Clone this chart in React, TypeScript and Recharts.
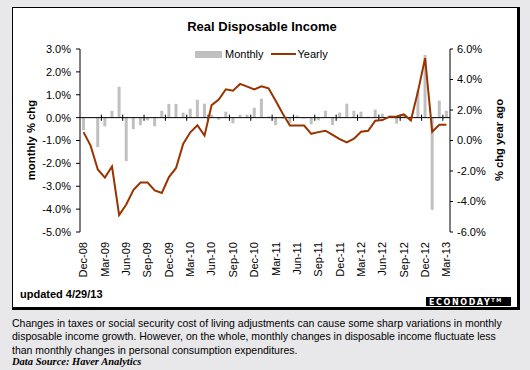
import React from 'react'
import { ComposedChart, Bar, Line, XAxis, YAxis, ReferenceLine, Legend } from 'recharts'

const MONTHS = [
  'Dec-08',
  'Jan-09', 'Feb-09', 'Mar-09', 'Apr-09', 'May-09', 'Jun-09', 'Jul-09', 'Aug-09', 'Sep-09', 'Oct-09', 'Nov-09', 'Dec-09',
  'Jan-10', 'Feb-10', 'Mar-10', 'Apr-10', 'May-10', 'Jun-10', 'Jul-10', 'Aug-10', 'Sep-10', 'Oct-10', 'Nov-10', 'Dec-10',
  'Jan-11', 'Feb-11', 'Mar-11', 'Apr-11', 'May-11', 'Jun-11', 'Jul-11', 'Aug-11', 'Sep-11', 'Oct-11', 'Nov-11', 'Dec-11',
  'Jan-12', 'Feb-12', 'Mar-12', 'Apr-12', 'May-12', 'Jun-12', 'Jul-12', 'Aug-12', 'Sep-12', 'Oct-12', 'Nov-12', 'Dec-12',
  'Jan-13', 'Feb-13', 'Mar-13',
]

// monthly % change (left axis)
const MONTHLY = [
  -0.55, 0.03, -1.29, -0.38, 0.3, 1.35, -1.9, -0.5, -0.33, -0.12, -0.38, 0.3, 0.6,
  0.6, 0.22, 0.39, 0.78, 0.61, 0.13, -0.09, 0.26, -0.25, 0.13, 0.13, 0.43, 0.83,
  0.05, -0.33, -0.05, -0.23, 0.09, -0.04, -0.29, -0.12, 0.3, -0.33, 0.22, 0.61, 0.3,
  0.26, 0.04, 0.35, 0.17, 0.09, -0.26, 0.13, 0.05, 1.17, 2.74, -4.03, 0.74, 0.3,
]

// % change year ago (right axis)
const YEARLY = [
  0.55, -0.35, -1.9, -2.43, -1.71, -4.89, -4.2, -3.25, -2.76, -2.76, -3.27, -3.44, -2.4,
  -1.8, -0.22, 0.54, 1.0, 0.32, 2.32, 2.68, 3.36, 3.27, 3.71, 3.53, 3.35, 3.55,
  3.42, 2.61, 1.76, 0.98, 0.98, 0.98, 0.44, 0.55, 0.64, 0.37, 0.09, -0.13, 0.12,
  0.57, 0.64, 1.3, 1.34, 1.56, 1.58, 1.71, 1.32, 3.22, 5.4, 0.57, 1.03, 1.03,
]

const LEFT_TICKS = [-5, -4, -3, -2, -1, 0, 1, 2, 3]
const RIGHT_TICKS = [-6, -4, -2, 0, 2, 4, 6]

const data = MONTHS.map((month, i) => ({ month, monthly: MONTHLY[i], yearly: YEARLY[i] }))
const tickMonths = MONTHS.filter((_, i) => i > 0 && i % 3 === 0)

const FONT = '"Liberation Sans", Arial, sans-serif'
const BROWN = '#993300'
const GREY = '#c0c0c0'

const pct = (v: number) => `${v.toFixed(1)}%`

function MonthTick({ x, y, payload }: any) {
  return (
    <g transform={`translate(${x},${y + 8}) rotate(-90)`}>
      <text textAnchor="end" dy="0.35em" fontSize={11} fill="#000">
        {payload.value}
      </text>
    </g>
  )
}

function LegendBox() {
  return (
    <div style={{ display: 'flex', alignItems: 'center', fontSize: 11, color: '#000', whiteSpace: 'nowrap' }}>
      <span style={{ width: 27, height: 7, background: GREY, marginRight: 3 }} />
      <span>Monthly</span>
      <span style={{ width: 25, height: 2, background: BROWN, marginLeft: 7, marginRight: 2 }} />
      <span>Yearly</span>
    </div>
  )
}

export default function App() {
  return (
    <div style={{ position: 'absolute', left: 0, top: 0, width: 530, height: 370, background: '#e8e8ea', fontFamily: FONT, overflow: 'hidden' }}>
      <div
        style={{
          position: 'absolute', left: 12, top: 7, width: 504, height: 299, background: '#fff',
          borderTop: '1px solid #000', borderLeft: '1px solid #000', borderRight: '3px solid #000', borderBottom: '3px solid #000',
        }}
      />
      <div style={{ position: 'absolute', left: 0, top: 0 }}>
        <ComposedChart width={530} height={300} data={data} margin={{ top: 49, right: 0, left: 0, bottom: 18 }}>
          <XAxis
            dataKey="month"
            interval={2}
            tickLine={false}
            axisLine={false}
            tickSize={0}
            height={50}
            tick={<MonthTick />}
          />
          <YAxis
            yAxisId="left"
            domain={[-5, 3]}
            ticks={LEFT_TICKS}
            width={80}
            tickFormatter={pct}
            axisLine={{ stroke: '#000' }}
            tickLine={{ stroke: '#000' }}
            tickSize={4}
            tickMargin={5}
            tick={{ fontSize: 11, fill: '#000' }}
          />
          <YAxis
            yAxisId="right"
            orientation="right"
            domain={[-6, 6]}
            ticks={RIGHT_TICKS}
            width={80}
            tickFormatter={pct}
            axisLine={{ stroke: '#000' }}
            tickLine={{ stroke: '#000' }}
            tickSize={3}
            tickMargin={4}
            tick={{ fontSize: 11, fill: '#000' }}
          />
          <Bar yAxisId="left" dataKey="monthly" fill={GREY} barSize={3} isAnimationActive={false} />
          <ReferenceLine yAxisId="left" y={0} stroke="#000" strokeWidth={1} />
          {tickMonths.map((m) => (
            <ReferenceLine
              key={m}
              yAxisId="left"
              position="start"
              segment={[{ x: m, y: 0.13 }, { x: m, y: -0.14 }]}
              stroke="#000"
              strokeWidth={1}
            />
          ))}
          <Line
            yAxisId="right"
            dataKey="yearly"
            type="linear"
            stroke={BROWN}
            strokeWidth={2}
            dot={false}
            isAnimationActive={false}
          />
          <Legend
            layout="horizontal"
            align="center"
            verticalAlign="middle"
            content={<LegendBox />}
            wrapperStyle={{ top: 48, left: 195, width: 'auto' }}
          />
        </ComposedChart>
      </div>
      <svg width={530} height={310} style={{ position: 'absolute', left: 0, top: 0, pointerEvents: 'none' }}>
        <text x={262} y={31} textAnchor="middle" fontSize={13} fontWeight="bold" fill="#000">
          Real Disposable Income
        </text>
        <text transform="translate(31,140) rotate(-90)" textAnchor="middle" dy="0.35em" fontSize={11.3} fontWeight="bold" fill="#000">
          monthly % chg
        </text>
        <text transform="translate(499.5,140) rotate(-90)" textAnchor="middle" dy="0.35em" fontSize={11.2} fontWeight="bold" fill="#000">
          % chg year ago
        </text>
        <text x={20} y={298} fontSize={11} fontWeight="bold" fill="#000">
          updated 4/29/13
        </text>
        <rect x={426} y={297} width={85} height={9} fill="#000" />
        <text x={429} y={305} fontSize={8} fontWeight="bold" fill="#fff" letterSpacing={1.6} fontFamily='"DejaVu Sans", sans-serif'>
          ECONODAY<tspan fontSize={5} dy={-3}>TM</tspan>
        </text>
      </svg>
      <div style={{ position: 'absolute', left: 12, top: 316.5, fontSize: 10.5, lineHeight: '13.7px', color: '#000', whiteSpace: 'nowrap' }}>
        Changes in taxes or social security cost of living adjustments can cause some sharp variations in monthly
        <br />
        disposable income growth. However, on the whole, monthly changes in disposable income fluctuate less
        <br />
        than monthly changes in personal consumption expenditures.
      </div>
      <div
        style={{
          position: 'absolute', left: 12, top: 355, fontSize: 10.5, lineHeight: '13px', color: '#000',
          fontFamily: '"Liberation Serif", "Times New Roman", serif', fontStyle: 'italic', fontWeight: 'bold', whiteSpace: 'nowrap',
        }}
      >
        Data Source: Haver Analytics
      </div>
    </div>
  )
}
